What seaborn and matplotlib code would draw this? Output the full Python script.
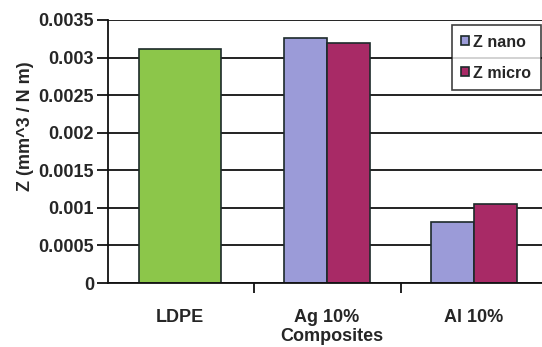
import matplotlib
matplotlib.use("Agg")
import matplotlib.pyplot as plt
import seaborn as sns
import pandas as pd
import numpy as np
from matplotlib.ticker import FixedLocator, FuncFormatter

categories = ["LDPE", "Ag 10%", "Al 10%"]
series_names = ["Z nano", "Z micro"]
filled_categories = ["Ag 10%", "Al 10%"]
z_nano = [0.00326, 0.00081]
z_micro = [0.00319, 0.00105]
ldpe_value = [0.00311]
y_ticks = [0, 0.0005, 0.001, 0.0015, 0.002, 0.0025, 0.003, 0.0035]

sns.set_theme(style="white")
plt.rcParams['font.family'] = ['Liberation Sans', 'DejaVu Sans']
plt.rcParams['font.weight'] = 'bold'

rows = []
for c, n, m in zip(filled_categories, z_nano, z_micro):
    rows.append({"Composite": c, "Series": series_names[0], "Z": n})
    rows.append({"Composite": c, "Series": series_names[1], "Z": m})
df = pd.DataFrame(rows)
df_ldpe = pd.DataFrame({"Composite": ["LDPE"], "Z": ldpe_value})

fig = plt.figure(figsize=(5.42, 3.47), dpi=100)
ax = fig.add_axes([108/542, 1-283/347, 444/542, 263/347])

edge = "#1c2a2a"
for y in y_ticks:
    ax.axhline(y, color="#111111", lw=1.3, zorder=0)

sns.barplot(data=df_ldpe, x="Composite", y="Z", order=categories, color="#8cc64a",
            width=0.56, edgecolor=edge, linewidth=1.2, saturation=1, ax=ax, zorder=2)
sns.barplot(data=df, x="Composite", y="Z", hue="Series", order=categories,
            hue_order=series_names, palette=["#9b9bd8", "#a82a66"],
            width=0.58, edgecolor=edge, linewidth=1.2, saturation=1, ax=ax, zorder=2)

ax.set_xlim(-0.49, 2.53)
ax.set_ylim(0, 0.0035)
ax.yaxis.set_major_locator(FixedLocator(y_ticks))
ax.yaxis.set_major_formatter(FuncFormatter(lambda v, p: f"{v:g}"))
ax.set_xticks([0, 1, 2])
ax.set_xticklabels(categories)
ax.set_xticks([0.5, 1.5], minor=True)
ax.tick_params(axis='x', which='major', length=0, labelsize=13, pad=19)
ax.tick_params(axis='x', which='minor', length=7, width=1.3, color="#111111", direction='out', bottom=True)
ax.tick_params(axis='y', which='major', length=8, width=1.3, color="#111111", direction='out', left=True,
               labelsize=13, pad=2)
for lab in ax.get_xticklabels() + ax.get_yticklabels():
    lab.set_fontweight('bold')

ax.set_xlabel("Composites", fontsize=13, fontweight='bold')
ax.set_ylabel("Z (mm^3 / N m)", fontsize=13, fontweight='bold')
ax.xaxis.set_label_coords(0.504, -0.172)
ax.yaxis.set_label_coords(-0.185, 0.597)
ax.yaxis.label.set_va('center')

for s in ["top", "right"]:
    ax.spines[s].set_visible(False)
for s in ["left", "bottom"]:
    ax.spines[s].set_color("#111111")
    ax.spines[s].set_linewidth(1.3)

leg = ax.legend(loc="upper right", bbox_to_anchor=(0.975, 0.981), borderaxespad=0,
                fontsize=11.5, frameon=True, fancybox=False, handlelength=0.5, handleheight=0.5,
                handletextpad=0.25, labelspacing=1.0, borderpad=0.6)
leg.get_frame().set_edgecolor("#111111")
leg.get_frame().set_linewidth(1.2)
for t in leg.get_texts():
    t.set_fontweight('bold')

fig.savefig("out.png", dpi=100)
